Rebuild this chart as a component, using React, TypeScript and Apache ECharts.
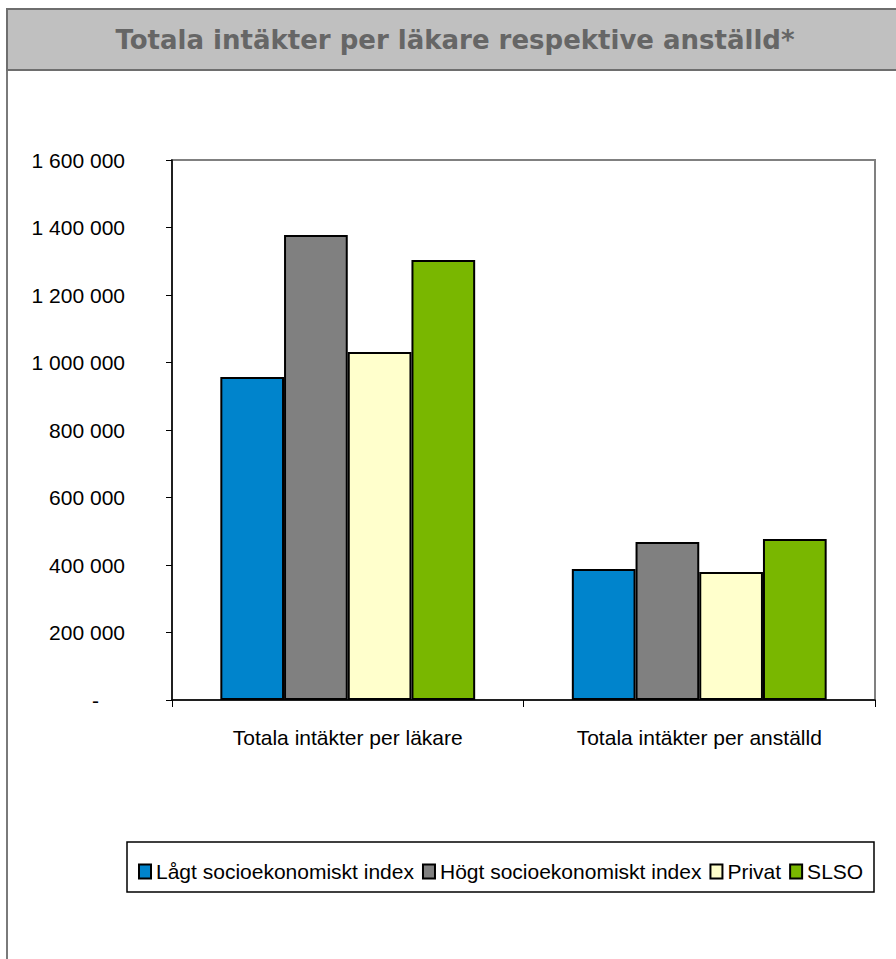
import React, { useEffect, useRef } from "react";
import * as echarts from "echarts";

const categories = ["Totala intäkter per läkare", "Totala intäkter per anställd"];
const seriesNames = ["Lågt socioekonomiskt index", "Högt socioekonomiskt index", "Privat", "SLSO"];
const lagtValues = [957000, 388000];
const hogtValues = [1378000, 468000];
const privatValues = [1031000, 379000];
const slsoValues = [1304000, 477000];
const seriesColors = ["#0084CC", "#808080", "#FFFFCC", "#79B700"];
const titleText = "Totala intäkter per läkare respektive anställd*";

const FONT = "Liberation Sans, Arial, sans-serif";

function fmt(v: number): string {
  if (v === 0) return "{d|-}";
  return String(v).replace(/\B(?=(\d{3})+(?!\d))/g, " ");
}

export default function App() {
  const ref = useRef<HTMLDivElement>(null);
  useEffect(() => {
    if (!ref.current) return;
    const chart = echarts.init(ref.current, null, { renderer: "svg" });
    const values = [lagtValues, hogtValues, privatValues, slsoValues];
    chart.setOption({
      animation: false,
      backgroundColor: "#ffffff",
      graphic: [
        {
          type: "rect",
          shape: { x: 7, y: 9, width: 1000, height: 1000 },
          style: { fill: "none", stroke: "#7a7a7a", lineWidth: 2 },
          silent: true,
        },
        {
          type: "rect",
          shape: { x: 7, y: 9, width: 1000, height: 61 },
          style: { fill: "#c0c0c0", stroke: "#6e6e6e", lineWidth: 2 },
          silent: true,
        },
        {
          type: "text",
          x: 455,
          y: 40,
          style: {
            text: titleText,
            fill: "#666666",
            font: "bold 26px 'DejaVu Sans', Verdana, sans-serif",
            align: "center",
            verticalAlign: "middle",
          },
          silent: true,
        },
        {
          type: "rect",
          shape: { x: 127, y: 842, width: 747, height: 50 },
          style: { fill: "none", stroke: "#000000", lineWidth: 1.5 },
          silent: true,
        },
      ],
      legend: {
        left: 133,
        top: 856,
        itemWidth: 12,
        itemHeight: 14,
        itemGap: 8,
        icon: "rect",
        data: seriesNames,
        textStyle: { fontFamily: FONT, fontSize: 21, color: "#000" },
      },
      grid: {
        left: 172,
        top: 160,
        width: 703,
        height: 540,
        show: true,
        borderColor: "#808080",
        borderWidth: 2,
        backgroundColor: "transparent",
      },
      xAxis: {
        type: "category",
        data: categories,
        axisLine: { lineStyle: { color: "#000", width: 1.5 } },
        axisTick: { show: true, length: 7, lineStyle: { color: "#000" } },
        axisLabel: {
          margin: 27,
          fontFamily: FONT,
          fontSize: 21,
          color: "#000",
        },
        splitLine: { show: false },
      },
      yAxis: {
        type: "value",
        min: 0,
        max: 1600000,
        interval: 200000,
        axisLine: { show: true, lineStyle: { color: "#000", width: 1.5 } },
        axisTick: { show: true, length: 6, lineStyle: { color: "#000" } },
        splitLine: { show: false },
        axisLabel: {
          margin: 47,
          fontFamily: FONT,
          fontSize: 21,
          color: "#000",
          formatter: fmt,
          rich: {
            d: { fontFamily: FONT, fontSize: 21, color: "#000", padding: [0, 26, 0, 0] },
          },
        },
      },
      series: seriesNames.map((name, i) => ({
        name,
        type: "bar",
        data: values[i],
        barGap: "0%",
        barCategoryGap: "27.5%",
        itemStyle: { color: seriesColors[i], borderColor: "#000", borderWidth: 2 },
      })),
    });
    return () => chart.dispose();
  }, []);
  return (
    <div
      ref={ref}
      style={{ position: "fixed", left: 0, top: 0, width: 896, height: 959, background: "#fff" }}
    />
  );
}
